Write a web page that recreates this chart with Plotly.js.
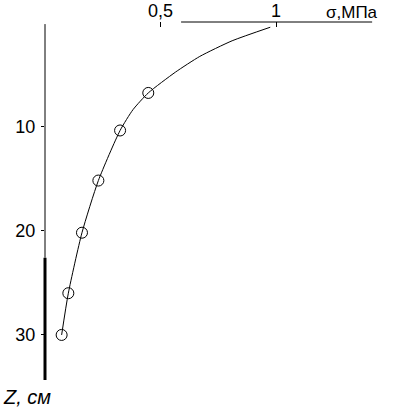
<!DOCTYPE html>
<html>
<head>
<meta charset="utf-8">
<script src="https://cdn.plot.ly/plotly-3.0.1.min.js"></script>
<style>html,body{margin:0;padding:0;background:#fff;}#chart{width:397px;height:408px;}</style>
</head>
<body>
<div id="chart"></div>
<script>
// Measured points (circles): stress σ (MPa) vs depth Z (cm)
const sigmaPoints = [0.447, 0.325, 0.231, 0.160, 0.101, 0.072];
const depthPoints = [6.8, 10.4, 15.2, 20.2, 26.0, 30.0];

// Fitted curve
const sigmaCurve = [0.975, 0.81, 0.67, 0.565, 0.447, 0.381, 0.325, 0.231, 0.160, 0.101, 0.072];
const depthCurve = [0.5, 1.8, 3.3, 4.8, 6.8, 8.4, 10.4, 15.2, 20.2, 26.0, 30.0];

// Axis ticks
const xTickVals = [0.5, 1];
const xTickText = ['0,5', '1'];
const yTickVals = [10, 20, 30];
const yTickText = ['10', '20', '30'];

const FONT = 'Liberation Sans, Arial, Helvetica, sans-serif';

const traces = [
  {
    x: sigmaCurve, y: depthCurve, mode: 'lines', type: 'scatter',
    line: {color: '#000', width: 1, shape: 'spline', smoothing: 0.6},
    hoverinfo: 'skip', showlegend: false
  },
  {
    x: sigmaPoints, y: depthPoints, mode: 'markers', type: 'scatter',
    marker: {symbol: 'circle-open', size: 11, color: '#000', line: {width: 1, color: '#000'}},
    showlegend: false
  }
];

const layout = {
  width: 397, height: 408,
  margin: {l: 45, r: 17, t: 22, b: 28},
  paper_bgcolor: '#fff', plot_bgcolor: '#fff',
  showlegend: false,
  xaxis: {
    side: 'top', range: [0, 1.45], showgrid: false, zeroline: false, showline: false,
    tickvals: xTickVals, ticktext: xTickText, ticks: 'inside', ticklen: 5, tickwidth: 1, tickcolor: '#000',
    tickfont: {family: FONT, size: 18, color: '#000'}, ticklabelstandoff: 0
  },
  yaxis: {
    range: [34.32, 0], showgrid: false, zeroline: false, showline: false,
    tickvals: yTickVals, ticktext: yTickText, ticks: 'outside', ticklen: 3, tickwidth: 1, tickcolor: '#000',
    tickfont: {family: FONT, size: 18, color: '#000'}, ticklabelstandoff: 2
  },
  shapes: [
    // top axis line (σ)
    {type: 'line', xref: 'x', yref: 'paper', x0: 0.589, x1: 1.416, y0: 1, y1: 1, line: {color: '#000', width: 1}},
    // left axis line, thin part
    {type: 'line', xref: 'paper', yref: 'y', x0: 0, x1: 0, y0: 0.2, y1: 22.6, line: {color: '#000', width: 1}},
    // left axis line, thick part
    {type: 'line', xref: 'paper', yref: 'y', x0: 0, x1: 0, y0: 22.6, y1: 34.32, line: {color: '#000', width: 3}}
  ],
  annotations: [
    {text: 'σ,МПа', xref: 'paper', yref: 'paper', x: 1, y: 1, xanchor: 'right', yanchor: 'middle', yshift: 10,
     showarrow: false, font: {family: FONT, size: 17, color: '#000'}},
    {text: '<i>Z, см</i>', xref: 'paper', yref: 'paper', x: -44/335, y: 0, xanchor: 'left', yanchor: 'top', yshift: -4,
     showarrow: false, font: {family: FONT, size: 20, color: '#000'}}
  ]
};

Plotly.newPlot('chart', traces, layout, {displayModeBar: false, staticPlot: true});
</script>
</body>
</html>
